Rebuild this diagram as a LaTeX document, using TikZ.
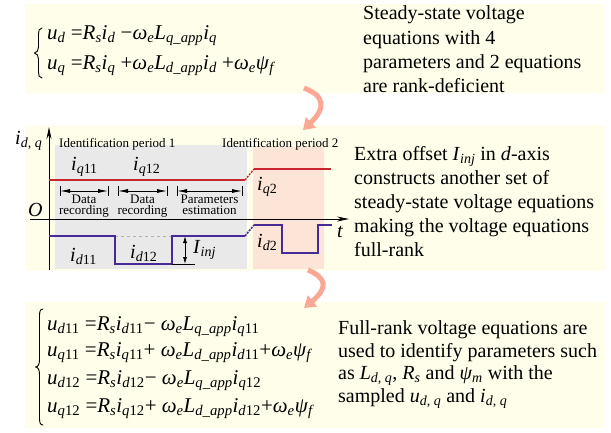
\documentclass[tikz,border=0pt]{standalone}
\usepackage{fontspec}
\setmainfont{Liberation Serif}
\usetikzlibrary{arrows.meta}

\definecolor{panelyellow}{RGB}{254,254,234}
\definecolor{periodgrey}{RGB}{233,233,233}
\definecolor{periodpink}{RGB}{252,228,214}
\definecolor{qred}{RGB}{200,38,44}
\definecolor{dblue}{RGB}{72,42,150}
\definecolor{flowsalmon}{RGB}{250,168,148}

% italic variable and subscript helpers
\newcommand{\mv}[1]{\textit{#1}}
\newcommand{\sbx}[1]{\textsubscript{#1}}
\newcommand{\isub}[2]{\textsubscript{\textit{#1}#2}}

\begin{document}
\begin{tikzpicture}[x=1pt,y=-1pt,
  body/.style={font=\fontsize{20}{24}\selectfont, anchor=base west, inner sep=0pt},
  eqn/.style={font=\fontsize{21}{24}\selectfont, anchor=base west, inner sep=0pt},
  lbl/.style={font=\fontsize{20}{24}\selectfont, anchor=base west, inner sep=0pt},
  stage/.style={font=\fontsize{13}{11}\selectfont, align=center, anchor=north, inner sep=0pt},
  smallw/.style={font=\fontsize{13}{13}\selectfont, anchor=base west, inner sep=0pt},
  curly/.style={line width=0.9pt, line cap=round, line join=round},
  flow/.style={draw=flowsalmon, line width=5pt, -{Triangle[width=14pt,length=11pt]}},
  dim/.style={line width=0.8pt, {Latex[length=10pt,width=4pt]}-{Latex[length=10pt,width=4pt]}},
  bar/.style={line width=0.8pt},
  axis/.style={line width=1pt, -{Stealth[length=12pt,width=5pt]}},
  qcur/.style={draw=qred, line width=1.4pt},
  dcur/.style={draw=dblue, line width=1.6pt},
  ramp/.style={dash pattern=on 2pt off 1.2pt},
]
\useasboundingbox (0,0) rectangle (611,432);
\fill[white] (0,0) rectangle (611,432);

% ---------- panels ----------
\fill[panelyellow] (25,4) rectangle (606,93);
\fill[panelyellow] (25,125) rectangle (606,271);
\fill[panelyellow] (25,302) rectangle (606,428);

% ---------- panel 1: rank-deficient equations ----------
\draw[curly] (42,28) .. controls (39,28) and (38.5,31) .. (38.5,34) -- (38.5,47)
  .. controls (38.5,50) and (37,53) .. (34.5,53)
  .. controls (37,53) and (38.5,56) .. (38.5,59) -- (38.5,72)
  .. controls (38.5,75) and (39,78) .. (42,78);
\node[eqn] (e1a) at (47,39) {\mv{u}\isub{d}{} =\mv{R}\isub{s}{}\mv{i}\isub{d}{} −\mv{ω}\isub{e}{}\mv{L}\isub{q\_app}{}\mv{i}\isub{q}{}};
\node[eqn] (e1b) at (47,69) {\mv{u}\isub{q}{} =\mv{R}\isub{s}{}\mv{i}\isub{q}{} +\mv{ω}\isub{e}{}\mv{L}\isub{d\_app}{}\mv{i}\isub{d}{} +\mv{ω}\isub{e}{}\mv{ψ}\isub{f}{}};

\node[body] (t1a) at (363,19.5) {Steady-state voltage};
\node[body] (t1b) at (363,44) {equations with 4};
\node[body] (t1c) at (363,68.5) {parameters and 2 equations};
\node[body] (t1d) at (363,92) {are rank-deficient};

% ---------- panel 2: current waveforms ----------
\fill[periodgrey] (55,145) rectangle (247,269);
\fill[periodpink] (253,147) rectangle (324,269);

\node[smallw] (p1) at (59,147) {Identification period 1};
\node[smallw] (p2) at (222,147) {Identification period 2};

% axes
\coordinate (yb) at (49,270);
\coordinate (yt) at (49,127);
\coordinate (xl) at (30,219);
\coordinate (xr) at (349,219);
\draw[axis] (yb) -- (yt);
\draw[axis] (xl) -- (xr);
\node[lbl] (yl) at (15,144) {\mv{i}\sbx{\mv{d}, \mv{q}}};
\node[lbl] (org) at (28,216) {\mv{O}};
\node[lbl] (tl) at (337,237) {\mv{t}};

% q-axis current
\draw[qcur] (49,180) -- (245,180);
\draw[qcur, ramp] (245,180) -- (254,169);
\draw[qcur] (254,169) -- (331,169);

% d-axis current with injected offset
\draw[gray!60, dashed, line width=0.8pt] (115,236) -- (172,236);
\draw[dcur] (49,236) -- (115,236) -- (115,264) -- (172,264) -- (172,236) -- (245,236);
\draw[dcur, ramp] (245,236) -- (254,225);
\draw[dcur] (254,225) -- (282,225) -- (282,253) -- (318,253) -- (318,225) -- (332,225);

% current labels
\node[lbl] (iq11) at (71,170) {\mv{i}\isub{q}{11}};
\node[lbl] (iq12) at (133,170) {\mv{i}\isub{q}{12}};
\node[lbl] (iq2) at (257,190) {\mv{i}\isub{q}{2}};
\node[lbl] (id11) at (70,261) {\mv{i}\isub{d}{11}};
\node[lbl] (id12) at (130,258) {\mv{i}\isub{d}{12}};
\node[lbl] (id2) at (257,247) {\mv{i}\isub{d}{2}};
\node[lbl] (iinj) at (193,253) {\mv{I}\isub{inj}{}};

% offset marker
\coordinate (inja) at (185,236);
\coordinate (injb) at (185,264);
\draw[line width=0.8pt, {Latex[length=7pt,width=4pt]}-{Latex[length=7pt,width=4pt]}] (inja) -- (injb);
\draw[line width=0.8pt] (172,264) -- (195,264);

% stage markers
\foreach \a/\b/\n in {60/108/s1, 118/167/s2, 177/242/s3}{
  \coordinate (\n l) at (\a,191);
  \coordinate (\n r) at (\b,191);
  \draw[dim] (\n l) -- (\n r);
  \draw[bar] (\a,186) -- (\a,196);
  \draw[bar] (\b,186) -- (\b,196);
}
\node[stage] (s1) at (84,194.5) {Data\\recording};
\node[stage] (s2) at (142.5,194.5) {Data\\recording};
\node[stage] (s3) at (209.5,194.5) {Parameters\\estimation};

\node[body] (t2a) at (354,160.5) {Extra offset \mv{I}\isub{inj}{} in \mv{d}-axis};
\node[body] (t2b) at (354,184.5) {constructs another set of};
\node[body] (t2c) at (354,208.5) {steady-state voltage equations};
\node[body] (t2d) at (354,232.5) {making the voltage equations};
\node[body] (t2e) at (354,256.5) {full-rank};

% ---------- panel 3: full-rank equations ----------
\draw[curly] (43,309) .. controls (40,309) and (39.5,312) .. (39.5,316) -- (39.5,360)
  .. controls (39.5,364) and (38,367) .. (35.5,367)
  .. controls (38,367) and (39.5,370) .. (39.5,374) -- (39.5,418)
  .. controls (39.5,422) and (40,425) .. (43,425);
\node[eqn] (e3a) at (47,330) {\mv{u}\isub{d}{11} =\mv{R}\isub{s}{}\mv{i}\isub{d}{11}− \mv{ω}\isub{e}{}\mv{L}\isub{q\_app}{}\mv{i}\isub{q}{11}};
\node[eqn] (e3b) at (47,356) {\mv{u}\isub{q}{11} =\mv{R}\isub{s}{}\mv{i}\isub{q}{11}+ \mv{ω}\isub{e}{}\mv{L}\isub{d\_app}{}\mv{i}\isub{d}{11}+\mv{ω}\isub{e}{}\mv{ψ}\isub{f}{}};
\node[eqn] (e3c) at (47,384) {\mv{u}\isub{d}{12} =\mv{R}\isub{s}{}\mv{i}\isub{d}{12}− \mv{ω}\isub{e}{}\mv{L}\isub{q\_app}{}\mv{i}\isub{q}{12}};
\node[eqn] (e3d) at (47,412) {\mv{u}\isub{q}{12} =\mv{R}\isub{s}{}\mv{i}\isub{q}{12}+ \mv{ω}\isub{e}{}\mv{L}\isub{d\_app}{}\mv{i}\isub{d}{12}+\mv{ω}\isub{e}{}\mv{ψ}\isub{f}{}};

\node[body] (t3a) at (338,334.5) {Full-rank voltage equations are};
\node[body] (t3b) at (338,357) {used to identify parameters such};
\node[body] (t3c) at (338,379.5) {as \mv{L}\sbx{\mv{d}, \mv{q}}, \mv{R}\isub{s}{} and \mv{ψ}\isub{m}{} with the};
\node[body] (t3d) at (338,402) {sampled \mv{u}\sbx{\mv{d}, \mv{q}} and \mv{i}\sbx{\mv{d}, \mv{q}}};

% ---------- flow arrows between panels ----------
\coordinate (f1s) at (304,88);
\coordinate (f1e) at (303,130);
\draw[flow] (f1s) .. controls (325,96) and (326,108) .. (f1e);
\coordinate (f2s) at (308,270);
\coordinate (f2e) at (304,308);
\draw[flow] (f2s) .. controls (327,278) and (328,288) .. (f2e);
\end{tikzpicture}
\end{document}
